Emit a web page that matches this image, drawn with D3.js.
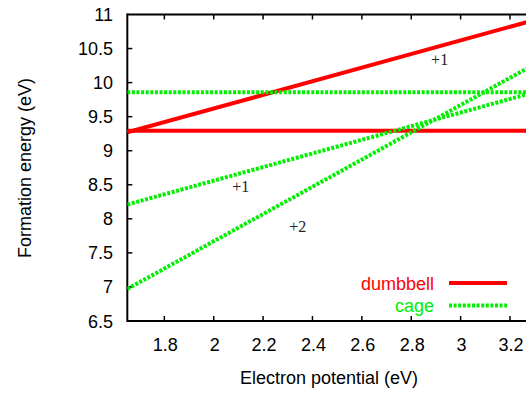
<!DOCTYPE html>
<html><head><meta charset="utf-8">
<script src="https://cdn.jsdelivr.net/npm/d3@7"></script>
<style>body{margin:0;background:#fff}svg{display:block}</style>
</head><body>
<script>
// Data
const xEnds = [1.65, 3.30];
const dumbbellNeutral = [9.295, 9.295];
const dumbbellPlus1 = [9.27, 10.92];
const cageNeutral = [9.86, 9.86];
const cagePlus1 = [8.21, 9.86];
const cagePlus2 = [6.97, 10.27];
const xTicks = [1.8, 2, 2.2, 2.4, 2.6, 2.8, 3, 3.2];
const yTicks = [6.5, 7, 7.5, 8, 8.5, 9, 9.5, 10, 10.5, 11];
const chargeLabels = [
  {text: "+1", x: 2.915, y: 10.33},
  {text: "+1", x: 2.11, y: 8.47},
  {text: "+2", x: 2.34, y: 7.88}
];
const legendItems = [
  {name: "dumbbell", color: "#ff0000", dash: null},
  {name: "cage", color: "#00f000", dash: "3,1.6"}
];

const W = 526, H = 394;
const svg = d3.select("body").append("svg").attr("width", W).attr("height", H);
const pLeft = 127.3, pTop = 14.5, pBottom = 321;
const x = d3.scaleLinear().domain([1.65, 3.35]).range([pLeft, pLeft + 1.7 * 246.9]);
const y = d3.scaleLinear().domain([6.5, 11]).range([pBottom, pTop]);
const font = "Liberation Sans, Arial, sans-serif";

svg.append("defs").append("clipPath").attr("id", "clip")
  .append("rect").attr("x", pLeft).attr("y", pTop).attr("width", 600).attr("height", pBottom - pTop);

// Axes
const axisG = svg.append("g");
axisG.append("line").attr("x1", pLeft).attr("x2", W + 5).attr("y1", pTop).attr("y2", pTop)
  .attr("stroke", "#000").attr("stroke-width", 2);
axisG.append("line").attr("x1", pLeft).attr("x2", W + 5).attr("y1", pBottom).attr("y2", pBottom)
  .attr("stroke", "#000").attr("stroke-width", 2);
axisG.append("line").attr("x1", pLeft).attr("x2", pLeft).attr("y1", pTop - 1).attr("y2", pBottom + 1)
  .attr("stroke", "#000").attr("stroke-width", 2);

xTicks.forEach(t => {
  axisG.append("line").attr("x1", x(t)).attr("x2", x(t)).attr("y1", pBottom).attr("y2", pBottom - 5)
    .attr("stroke", "#000").attr("stroke-width", 1.5);
  axisG.append("line").attr("x1", x(t)).attr("x2", x(t)).attr("y1", pTop).attr("y2", pTop + 5)
    .attr("stroke", "#000").attr("stroke-width", 1.5);
  axisG.append("text").attr("x", x(t) + 1).attr("y", 351).attr("text-anchor", "middle")
    .attr("font-family", font).attr("font-size", 18).attr("fill", "#000").text(String(t));
});
yTicks.forEach(t => {
  if (t !== 6.5 && t !== 11)
    axisG.append("line").attr("x1", pLeft).attr("x2", pLeft + 5).attr("y1", y(t)).attr("y2", y(t))
      .attr("stroke", "#000").attr("stroke-width", 1.5);
  axisG.append("text").attr("x", 113).attr("y", y(t) + 6.5).attr("text-anchor", "end")
    .attr("font-family", font).attr("font-size", 18).attr("fill", "#000").text(String(t));
});

svg.append("text").attr("x", 329).attr("y", 384).attr("text-anchor", "middle")
  .attr("font-family", font).attr("font-size", 18).attr("fill", "#000").text("Electron potential (eV)");
svg.append("text").attr("transform", "translate(31,168) rotate(-90)").attr("text-anchor", "middle")
  .attr("font-family", font).attr("font-size", 18).attr("fill", "#000").text("Formation energy (eV)");

// Lines
const series = [
  {vals: dumbbellNeutral, color: "#ff0000", dash: null},
  {vals: dumbbellPlus1, color: "#ff0000", dash: null},
  {vals: cageNeutral, color: "#00f000", dash: "3,1.6"},
  {vals: cagePlus1, color: "#00f000", dash: "3,1.6"},
  {vals: cagePlus2, color: "#00f000", dash: "3,1.6"}
];
const line = d3.line().x(d => x(d[0])).y(d => y(d[1]));
const lg = svg.append("g").attr("clip-path", "url(#clip)");
series.forEach(s => {
  lg.append("path").attr("d", line(xEnds.map((xv, i) => [xv, s.vals[i]])))
    .attr("fill", "none").attr("stroke", s.color).attr("stroke-width", 4)
    .attr("stroke-dasharray", s.dash);
});

// Charge labels
chargeLabels.forEach(l => {
  svg.append("text").attr("x", x(l.x)).attr("y", y(l.y) + 5).attr("text-anchor", "middle")
    .attr("font-family", "Liberation Serif, Times New Roman, serif").attr("font-size", 16)
    .attr("fill", "#222").text(l.text);
});

// Legend
legendItems.forEach((item, i) => {
  const ly = 283 + i * 22.5;
  svg.append("text").attr("x", 434).attr("y", ly + 6.5).attr("text-anchor", "end")
    .attr("font-family", font).attr("font-size", 18).attr("fill", item.color).text(item.name);
  svg.append("line").attr("x1", 449).attr("x2", 507).attr("y1", ly).attr("y2", ly)
    .attr("stroke", item.color).attr("stroke-width", 4).attr("stroke-dasharray", item.dash);
});
</script>
</body></html>
